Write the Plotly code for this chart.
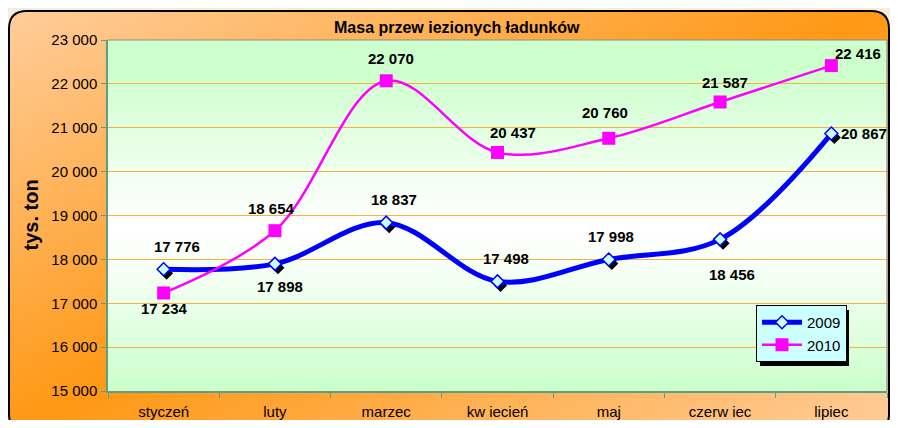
import base64
import struct
import zlib

import numpy as np
import plotly.graph_objects as go

MONTHS = ["styczeń", "luty", "marzec", "kw iecień", "maj", "czerw iec", "lipiec"]
SERIES = ["2009", "2010"]
VALUES_2009 = [17776, 17898, 18837, 17498, 17998, 18456, 20867]
VALUES_2010 = [17234, 18654, 22070, 20437, 20760, 21587, 22416]
Y_TICKS = list(range(15000, 23001, 1000))
TITLE = "Masa przew iezionych ładunków"
Y_TITLE = "tys. ton"

# label offsets from the point, in pixels (dx right, dy down)
DX_2009 = [13, 5, 8, 8, 2, 12, 33]
DY_2009 = [-23, 23, -23, -23, -23, 35, 0]
DX_2010 = [1, -3, 5, 15, -4, 5, 27]
DY_2010 = [16, -22, -22, -20, -26, -20, -12]

# page pixels (window 898x428); the figure sits inside the body's 8px margin
VW, VH, OFF = 898, 428, 8
W, H = VW - 2 * OFF, VH - 2 * OFF
PL, PR, PT, PB = 108, 887, 40, 391            # plot area, page px
FX0, FY0, FX1, FY1, RAD = 9, 11, 889, 432, 18  # rounded frame, page px
FONT = "Arial, Liberation Sans, sans-serif"


def px_x(x):
    return (x - PL) / (PR - PL)


def px_y(y):
    return (PB - y) / (PB - PT)


def png_uri(img):
    h, w, _ = img.shape
    raw = np.hstack([np.zeros((h, 1), np.uint8), img.reshape(h, w * 3)]).tobytes()

    def chunk(tag, data):
        return (struct.pack(">I", len(data)) + tag + data
                + struct.pack(">I", zlib.crc32(tag + data) & 0xFFFFFFFF))

    png = (b"\x89PNG\r\n\x1a\n"
           + chunk(b"IHDR", struct.pack(">IIBBBBB", w, h, 8, 2, 0, 0, 0))
           + chunk(b"IDAT", zlib.compress(raw, 9))
           + chunk(b"IEND", b""))
    return "data:image/png;base64," + base64.b64encode(png).decode()


# orange frame with diagonal gradient, beige outside
yy, xx = np.mgrid[OFF:OFF + H, OFF:OFF + W].astype(float)
u = (xx - FX0) / (FX1 - FX0)
v = (yy - FY0) / (FY1 - FY0)
t = np.clip(np.abs(u + v - 1), 0, 1)[..., None]
peach = np.array([255, 206, 156], float)
orange = np.array([255, 152, 20], float)
frame = orange + (peach - orange) * t
cx = np.clip(xx, FX0 + RAD, FX1 - RAD)
cy = np.clip(yy, FY0 + RAD, FY1 - RAD)
inside = ((xx >= FX0) & (xx <= FX1) & (yy >= FY0) & (yy <= FY1)
          & ((xx - cx) ** 2 + (yy - cy) ** 2 <= RAD ** 2))
frame[~inside] = [246, 236, 218]
frame_img = png_uri(frame.astype(np.uint8))

# plot area: green -> white -> green
gy = np.linspace(0, 1, 200)
mix = np.clip(np.abs(gy - 0.54) / 0.46, 0, 1) ** 1.2
green = np.array([204, 255, 204], float)
white = np.array([255, 255, 255], float)
col = white + (green - white) * mix[:, None]
plot_img = png_uri(np.repeat(col[:, None, :], 4, axis=1).astype(np.uint8))

xpos = list(range(len(MONTHS)))
step_x = (PR - PL) / len(MONTHS)
step_y = (PB - PT) / (Y_TICKS[-1] - Y_TICKS[0])
xr = [-0.5, len(MONTHS) - 0.5]
yr = [Y_TICKS[0], Y_TICKS[-1]]
sx, sy = 3 / step_x, 4 / step_y  # marker shadow offset

fig = go.Figure()
fig.add_trace(go.Scatter(
    x=xpos, y=VALUES_2009, mode="markers", xaxis="x2", yaxis="y2",
    marker=dict(symbol="diamond", size=10, color="black", line=dict(width=0)),
    showlegend=False, hoverinfo="skip"))
fig.add_trace(go.Scatter(
    x=xpos, y=VALUES_2009, name=SERIES[0], mode="lines+markers", xaxis="x3", yaxis="y3",
    line=dict(color="#0000FF", width=5, shape="spline", smoothing=1),
    marker=dict(symbol="diamond", size=10, color="#CCFFFF", line=dict(color="#0000FF", width=1.5))))
fig.add_trace(go.Scatter(
    x=xpos, y=VALUES_2010, name=SERIES[1], mode="lines+markers", xaxis="x3", yaxis="y3",
    line=dict(color="#FF00FF", width=2.5, shape="spline", smoothing=1),
    marker=dict(symbol="square", size=13, color="#FF00FF")))

annotations = []
for vals, dxs, dys in ((VALUES_2009, DX_2009, DY_2009), (VALUES_2010, DX_2010, DY_2010)):
    for i, val in enumerate(vals):
        annotations.append(dict(
            x=xpos[i], y=val, xref="x", yref="y", text=f"{val:,}".replace(",", " "),
            showarrow=False, xanchor="center", yanchor="middle",
            xshift=dxs[i], yshift=-dys[i],
            font=dict(family=FONT, size=15, color="black", weight="bold")))
annotations.append(dict(
    x=px_x(457), y=px_y(27), xref="paper", yref="paper", text=TITLE, showarrow=False,
    xanchor="center", yanchor="middle",
    font=dict(family=FONT, size=16, color="black", weight="bold")))
annotations.append(dict(
    x=px_x(30), y=0.5, xref="paper", yref="paper", text=Y_TITLE, showarrow=False,
    textangle=-90, xanchor="center", yanchor="middle",
    font=dict(family=FONT, size=20, color="black", weight="bold")))


def rounded_path():
    pts = lambda x, y: f"{px_x(x):.5f},{px_y(y):.5f}"
    return (f"M{pts(FX0 + RAD, FY0)} L{pts(FX1 - RAD, FY0)} Q{pts(FX1, FY0)} {pts(FX1, FY0 + RAD)} "
            f"L{pts(FX1, FY1 - RAD)} Q{pts(FX1, FY1)} {pts(FX1 - RAD, FY1)} "
            f"L{pts(FX0 + RAD, FY1)} Q{pts(FX0, FY1)} {pts(FX0, FY1 - RAD)} "
            f"L{pts(FX0, FY0 + RAD)} Q{pts(FX0, FY0)} {pts(FX0 + RAD, FY0)} Z")


shapes = [
    dict(type="path", xref="paper", yref="paper", path=rounded_path(),
         line=dict(color="black", width=2), layer="below"),
    dict(type="path", xref="paper", yref="paper", path="M0,1 L1,1 L1,0",
         line=dict(color="#8C8C8C", width=1.2), layer="above"),
    dict(type="rect", xref="paper", yref="paper",
         x0=px_x(760), x1=px_x(849), y0=px_y(366), y1=px_y(310),
         fillcolor="black", line=dict(width=0), layer="above"),
]

axis_green = "#5F9E82"
fig.update_layout(
    width=W, height=H, autosize=False,
    margin=dict(l=PL - OFF, r=OFF + W - PR, t=PT - OFF, b=OFF + H - PB, pad=0),
    paper_bgcolor="#F6ECDA", plot_bgcolor="rgba(0,0,0,0)",
    separators=". ",
    font=dict(family=FONT, size=15, color="black"),
    xaxis=dict(range=xr, tickmode="array", tickvals=xpos, ticktext=MONTHS, automargin=False,
               ticks="", showgrid=False, zeroline=False, ticklabelstandoff=6,
               showline=True, linecolor=axis_green, linewidth=1.5,
               minor=dict(tickmode="array", tickvals=[p - 0.5 for p in xpos + [len(MONTHS)]],
                          ticks="outside", ticklen=5, tickcolor=axis_green, showgrid=False),
               tickfont=dict(size=15)),
    yaxis=dict(range=yr, tickmode="array", tickvals=Y_TICKS, tickformat=",d", automargin=False,
               ticks="outside", ticklen=5, tickcolor=axis_green, ticklabelstandoff=1,
               showgrid=True, gridcolor="#F5B243", gridwidth=1.3, zeroline=False,
               showline=True, linecolor=axis_green, linewidth=1.5,
               tickfont=dict(size=15)),
    xaxis2=dict(overlaying="x", range=[xr[0] - sx, xr[1] - sx], visible=False, showgrid=False),
    yaxis2=dict(overlaying="y", range=[yr[0] + sy, yr[1] + sy], visible=False, showgrid=False),
    xaxis3=dict(overlaying="x", range=xr, visible=False, showgrid=False),
    yaxis3=dict(overlaying="y", range=yr, visible=False, showgrid=False),
    legend=dict(x=px_x(756), y=px_y(305), xanchor="left", yanchor="top",
                bgcolor="#CCFFFF", bordercolor="black", borderwidth=1,
                font=dict(size=15), tracegroupgap=0, itemwidth=40),
    images=[
        dict(source=frame_img, xref="paper", yref="paper", x=px_x(OFF), y=px_y(OFF),
             sizex=W / (PR - PL), sizey=H / (PB - PT), sizing="stretch",
             xanchor="left", yanchor="top", layer="below"),
        dict(source=plot_img, xref="paper", yref="paper", x=0, y=1, sizex=1, sizey=1,
             sizing="stretch", xanchor="left", yanchor="top", layer="below"),
    ],
    annotations=annotations,
    shapes=shapes,
    showlegend=True,
)

fig.write_html("out.html")
